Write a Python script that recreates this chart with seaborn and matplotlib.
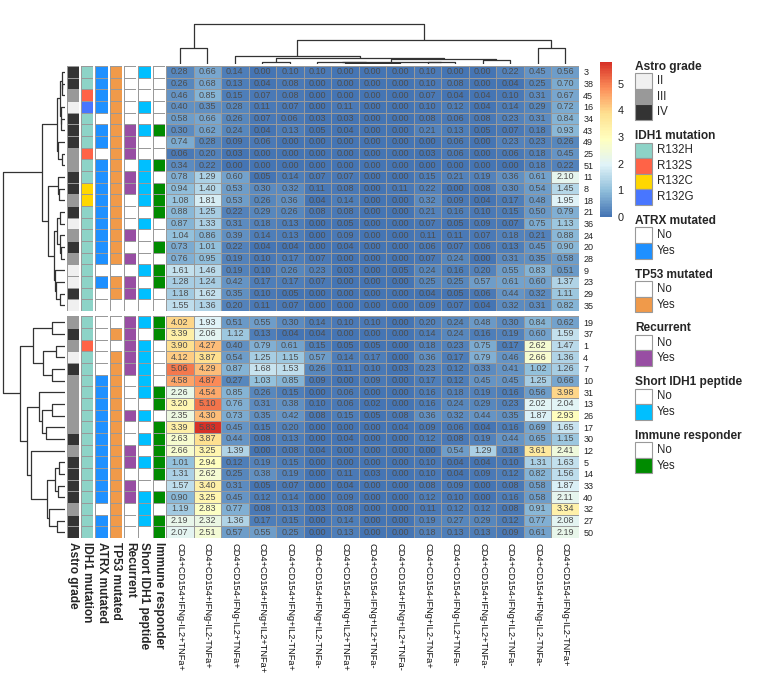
import numpy as np
import pandas as pd
import matplotlib
matplotlib.use('Agg')
import matplotlib.pyplot as plt
import seaborn as sns
from matplotlib.colors import ListedColormap, LinearSegmentedColormap
from matplotlib.patches import Rectangle

'''Data read from the reference chart'''

cell_types = ["CD4+CD154+IFNg-IL2+TNFa+", "CD4+CD154+IFNg-IL2-TNFa+", "CD4+CD154-IFNg-IL2+TNFa+",
              "CD4+CD154+IFNg+IL2+TNFa+", "CD4+CD154+IFNg+IL2-TNFa+", "CD4+CD154+IFNg+IL2-TNFa-",
              "CD4+CD154-IFNg+IL2+TNFa+", "CD4+CD154-IFNg+IL2+TNFa-", "CD4+CD154+IFNg+IL2+TNFa-",
              "CD4+CD154-IFNg+IL2-TNFa+", "CD4+CD154-IFNg-IL2+TNFa-", "CD4+CD154+IFNg-IL2+TNFa-",
              "CD4+CD154-IFNg+IL2-TNFa-", "CD4+CD154+IFNg-IL2-TNFa-", "CD4+CD154-IFNg-IL2-TNFa+"]

patients = ["3", "38", "45", "16", "34", "43", "49", "25", "51", "11", "8", "18", "21", "36", "24",
            "20", "28", "9", "23", "29", "35",
            "19", "37", "1", "4", "7", "10", "31", "13", "26", "17", "30", "12", "5", "14", "33",
            "40", "32", "27", "50"]

values = [
    [0.28, 0.66, 0.14, 0.00, 0.10, 0.10, 0.00, 0.00, 0.00, 0.10, 0.00, 0.00, 0.22, 0.45, 0.56],
    [0.26, 0.68, 0.13, 0.04, 0.08, 0.00, 0.00, 0.00, 0.00, 0.10, 0.08, 0.00, 0.04, 0.25, 0.70],
    [0.46, 0.85, 0.15, 0.07, 0.08, 0.00, 0.00, 0.00, 0.00, 0.07, 0.04, 0.04, 0.10, 0.31, 0.67],
    [0.40, 0.35, 0.28, 0.11, 0.07, 0.00, 0.11, 0.00, 0.00, 0.10, 0.12, 0.04, 0.14, 0.29, 0.72],
    [0.58, 0.66, 0.26, 0.07, 0.06, 0.03, 0.03, 0.00, 0.00, 0.08, 0.06, 0.08, 0.23, 0.31, 0.84],
    [0.30, 0.62, 0.24, 0.04, 0.13, 0.05, 0.04, 0.00, 0.00, 0.21, 0.13, 0.05, 0.07, 0.18, 0.93],
    [0.74, 0.28, 0.09, 0.06, 0.00, 0.00, 0.00, 0.00, 0.00, 0.00, 0.06, 0.00, 0.23, 0.23, 0.26],
    [0.06, 0.20, 0.03, 0.00, 0.00, 0.00, 0.00, 0.00, 0.00, 0.03, 0.06, 0.00, 0.06, 0.18, 0.45],
    [0.34, 0.22, 0.00, 0.00, 0.00, 0.00, 0.00, 0.00, 0.00, 0.00, 0.00, 0.00, 0.00, 0.18, 0.22],
    [0.78, 1.29, 0.60, 0.05, 0.14, 0.07, 0.07, 0.00, 0.00, 0.15, 0.21, 0.19, 0.36, 0.61, 2.10],
    [0.94, 1.40, 0.53, 0.30, 0.32, 0.11, 0.08, 0.00, 0.11, 0.22, 0.00, 0.08, 0.30, 0.54, 1.45],
    [1.08, 1.81, 0.53, 0.26, 0.36, 0.04, 0.14, 0.00, 0.00, 0.32, 0.09, 0.04, 0.17, 0.48, 1.95],
    [0.88, 1.25, 0.22, 0.29, 0.26, 0.08, 0.08, 0.00, 0.00, 0.21, 0.16, 0.10, 0.15, 0.50, 0.79],
    [0.87, 1.33, 0.31, 0.18, 0.13, 0.00, 0.05, 0.00, 0.00, 0.07, 0.05, 0.09, 0.07, 0.75, 1.13],
    [1.04, 0.86, 0.39, 0.14, 0.13, 0.00, 0.09, 0.00, 0.00, 0.11, 0.11, 0.07, 0.18, 0.21, 0.88],
    [0.73, 1.01, 0.22, 0.04, 0.04, 0.00, 0.04, 0.00, 0.00, 0.06, 0.07, 0.06, 0.13, 0.45, 0.90],
    [0.76, 0.95, 0.19, 0.10, 0.17, 0.07, 0.00, 0.00, 0.00, 0.07, 0.24, 0.00, 0.31, 0.35, 0.58],
    [1.61, 1.46, 0.19, 0.10, 0.26, 0.23, 0.03, 0.00, 0.05, 0.24, 0.16, 0.20, 0.55, 0.83, 0.51],
    [1.28, 1.24, 0.42, 0.17, 0.17, 0.07, 0.00, 0.00, 0.00, 0.25, 0.25, 0.57, 0.61, 0.60, 1.37],
    [1.18, 1.62, 0.35, 0.10, 0.05, 0.00, 0.00, 0.00, 0.00, 0.04, 0.05, 0.06, 0.44, 0.32, 1.11],
    [1.55, 1.36, 0.20, 0.11, 0.07, 0.00, 0.00, 0.00, 0.00, 0.09, 0.07, 0.04, 0.32, 0.31, 0.82],
    [4.02, 1.93, 0.51, 0.55, 0.30, 0.14, 0.10, 0.10, 0.00, 0.20, 0.24, 0.48, 0.30, 0.84, 0.62],
    [3.39, 2.06, 1.12, 0.13, 0.04, 0.04, 0.00, 0.00, 0.00, 0.14, 0.24, 0.16, 0.19, 0.60, 1.59],
    [3.90, 4.27, 0.40, 0.79, 0.61, 0.15, 0.05, 0.05, 0.00, 0.18, 0.23, 0.75, 0.17, 2.62, 1.47],
    [4.12, 3.87, 0.54, 1.25, 1.15, 0.57, 0.14, 0.17, 0.00, 0.36, 0.17, 0.79, 0.46, 2.66, 1.36],
    [5.06, 4.29, 0.87, 1.68, 1.53, 0.26, 0.11, 0.10, 0.03, 0.23, 0.12, 0.33, 0.41, 1.02, 1.26],
    [4.58, 4.87, 0.27, 1.03, 0.85, 0.09, 0.00, 0.09, 0.00, 0.17, 0.12, 0.45, 0.45, 1.25, 0.66],
    [2.26, 4.54, 0.85, 0.26, 0.15, 0.00, 0.06, 0.00, 0.00, 0.16, 0.18, 0.19, 0.16, 0.56, 3.98],
    [3.20, 5.10, 0.76, 0.31, 0.38, 0.10, 0.06, 0.02, 0.00, 0.16, 0.24, 0.29, 0.23, 2.02, 2.04],
    [2.35, 4.30, 0.73, 0.35, 0.42, 0.08, 0.15, 0.05, 0.08, 0.36, 0.32, 0.44, 0.35, 1.87, 2.93],
    [3.39, 5.83, 0.45, 0.15, 0.20, 0.00, 0.00, 0.00, 0.04, 0.09, 0.06, 0.04, 0.16, 0.69, 1.65],
    [2.63, 3.87, 0.44, 0.08, 0.13, 0.00, 0.04, 0.00, 0.00, 0.12, 0.08, 0.19, 0.44, 0.65, 1.15],
    [2.66, 3.25, 1.39, 0.00, 0.08, 0.04, 0.00, 0.00, 0.00, 0.00, 0.54, 1.29, 0.18, 3.61, 2.41],
    [1.01, 2.94, 0.12, 0.19, 0.15, 0.00, 0.00, 0.00, 0.00, 0.10, 0.04, 0.04, 0.10, 1.31, 1.63],
    [1.31, 2.62, 0.25, 0.38, 0.19, 0.00, 0.11, 0.03, 0.00, 0.10, 0.04, 0.09, 0.12, 0.82, 1.56],
    [1.57, 3.40, 0.31, 0.05, 0.07, 0.00, 0.04, 0.00, 0.00, 0.08, 0.09, 0.00, 0.08, 0.58, 1.87],
    [0.90, 3.25, 0.45, 0.12, 0.14, 0.00, 0.09, 0.00, 0.00, 0.12, 0.10, 0.00, 0.16, 0.58, 2.11],
    [1.19, 2.83, 0.77, 0.08, 0.13, 0.03, 0.08, 0.00, 0.00, 0.11, 0.12, 0.12, 0.08, 0.91, 3.34],
    [2.19, 2.32, 1.36, 0.17, 0.15, 0.00, 0.14, 0.00, 0.00, 0.19, 0.27, 0.29, 0.12, 0.77, 2.08],
    [2.07, 2.51, 0.57, 0.55, 0.25, 0.00, 0.13, 0.00, 0.00, 0.18, 0.13, 0.13, 0.09, 0.61, 2.19],
]

astro_grade = ["IV", "IV", "III", "II", "IV", "IV", "IV", "III", "III", "IV", "IV", "III", "IV", "II",
               "III", "IV", "III", "II", "II", "IV", "II",
               "III", "IV", "III", "II", "IV", "III", "III", "III", "III", "III", "IV", "III", "IV",
               "IV", "IV", "IV", "III", "IV", "IV"]
idh1_mutation = ["R132H", "R132H", "R132S", "R132G", "R132H", "R132H", "R132H", "R132S", "R132H",
                 "R132H", "R132C", "R132C"] + ["R132H"] * 9 + ["R132H", "R132H", "R132S"] + ["R132H"] * 16
atrx_mutated = ["Yes", "Yes", "Yes", "Yes", "No", "Yes", "Yes", "No", "Yes", "Yes", "Yes", "Yes", "Yes",
                "Yes", "Yes", "Yes", "Yes", "No", "Yes", "No", "No",
                "No", "No", "No", "No", "No", "Yes", "Yes", "Yes", "Yes", "Yes", "Yes", "Yes", "Yes",
                "Yes", "Yes", "Yes", "No", "Yes", "Yes"]
tp53_mutated = ["Yes"] * 17 + ["No", "Yes", "Yes", "No"] + ["No", "Yes", "No"] + ["Yes"] * 16
recurrent = ["No", "No", "No", "No", "No", "Yes", "Yes", "Yes", "No", "Yes", "Yes", "No", "No", "No",
             "Yes", "No", "Yes", "No", "Yes", "Yes", "No",
             "Yes", "Yes", "Yes", "Yes", "Yes", "No", "No", "No", "Yes", "No", "No", "Yes", "Yes",
             "No", "Yes", "Yes", "No", "No", "No"]
short_peptide = ["Yes", "No", "No", "Yes", "No", "Yes", "No", "No", "Yes", "Yes", "Yes", "Yes", "No",
                 "Yes", "No", "No", "No", "Yes", "No", "Yes", "No",
                 "Yes", "No", "Yes", "Yes", "Yes", "Yes", "Yes", "No", "Yes", "No", "Yes", "No", "Yes",
                 "No", "No", "Yes", "Yes", "Yes", "No"]
immune_responder = ["No", "No", "No", "No", "No", "Yes", "No", "No", "Yes", "No", "Yes", "Yes", "Yes",
                    "No", "No", "Yes", "No", "Yes", "Yes", "No", "No",
                    "Yes", "Yes", "No", "No", "No", "No", "Yes", "Yes", "No", "Yes", "Yes", "Yes", "Yes",
                    "Yes", "No", "Yes", "No", "Yes", "Yes"]

annotations = [
    ("Astro grade", astro_grade, ["II", "III", "IV"], ["#F0F0F0", "#999999", "#333333"]),
    ("IDH1 mutation", idh1_mutation, ["R132H", "R132S", "R132C", "R132G"],
     ["#8DD3C7", "#FF6347", "#FFD700", "#4876FF"]),
    ("ATRX mutated", atrx_mutated, ["No", "Yes"], ["#FFFFFF", "#1E90FF"]),
    ("TP53 mutated", tp53_mutated, ["No", "Yes"], ["#FFFFFF", "#F09A4A"]),
    ("Recurrent", recurrent, ["No", "Yes"], ["#FFFFFF", "#984EA3"]),
    ("Short IDH1 peptide", short_peptide, ["No", "Yes"], ["#FFFFFF", "#00BFFF"]),
    ("Immune responder", immune_responder, ["No", "Yes"], ["#FFFFFF", "#008B00"]),
]


'''Helper Functions'''

def complete_linkage(X):
    '''Agglomerative clustering, euclidean distance, complete linkage'''
    X = np.asarray(X, float)
    n = len(X)
    D = np.sqrt(((X[:, None, :] - X[None, :, :]) ** 2).sum(-1))
    np.fill_diagonal(D, np.inf)
    active = list(range(n))
    ids = list(range(n))
    children, heights = {}, {}
    next_id = n
    while len(active) > 1:
        sub = D[np.ix_(active, active)]
        i, j = np.unravel_index(np.argmin(sub), sub.shape)
        a, b = active[i], active[j]
        children[next_id] = (ids[a], ids[b])
        heights[next_id] = D[a, b]
        row = np.maximum(D[a], D[b])
        D[a, :] = row
        D[:, a] = row
        D[a, a] = np.inf
        ids[a] = next_id
        active.remove(b)
        next_id += 1
    return next_id - 1, children, heights


def leaf_order(node, n, children):
    '''Leaves under a node, children flipped to follow the original order'''
    if node < n:
        return [node]
    left = leaf_order(children[node][0], n, children)
    right = leaf_order(children[node][1], n, children)
    if min(right) < min(left):
        left, right = right, left
    return left + right


def draw_dendrogram(ax, root, n, children, heights, leaf_pos, vertical):
    '''Draw the tree with leaves at leaf_pos'''
    pos, hgt = dict(leaf_pos), {i: 0.0 for i in range(n)}

    def walk(node):
        if node < n:
            return
        l, r = children[node]
        walk(l)
        walk(r)
        pos[node] = (pos[l] + pos[r]) / 2
        hgt[node] = heights[node]
        h = heights[node]
        xs = [pos[l], pos[l], pos[r], pos[r]]
        ys = [hgt[l], h, h, hgt[r]]
        if vertical:
            ax.plot(xs, ys, color='#333333', lw=0.9, solid_capstyle='butt')
        else:
            ax.plot(ys, xs, color='#333333', lw=0.9, solid_capstyle='butt')

    walk(root)
    return heights[root]


W, H = 771, 685

def px_axes(fig, x0, y0, x1, y1):
    return fig.add_axes([x0 / W, 1 - y1 / H, (x1 - x0) / W, (y1 - y0) / H])


'''Main Function'''

def main():
    sns.set_style('white')
    plt.rcParams['font.family'] = ['Liberation Sans', 'DejaVu Sans']

    df = pd.DataFrame(values, index=patients, columns=cell_types)
    n_rows, n_cols = df.shape

    # clustering of rows and columns
    r_root, r_children, r_heights = complete_linkage(df.values)
    row_order = leaf_order(r_root, n_rows, r_children)
    first = leaf_order(r_children[r_root][0], n_rows, r_children)
    n_top = len(first) if 0 in first else n_rows - len(first)
    c_root, c_children, c_heights = complete_linkage(df.values.T)
    col_order = leaf_order(c_root, n_cols, c_children)

    df = df.iloc[row_order, col_order]
    groups = [df.iloc[:n_top], df.iloc[n_top:]]

    ramp = ["#4575B4", "#91BFDB", "#E0F3F8", "#FFFFBF", "#FEE090", "#FC8D59", "#D73027"]
    cmap = LinearSegmentedColormap.from_list('rdylbu', ramp, N=100)
    vmax = df.values.max()

    fig = plt.figure(figsize=(W / 100, H / 100), dpi=100)

    row_h = 11.67
    gap = 5.3
    top0 = 66.0
    x_left, x_right = 166.0, 579.0
    y_ranges = [(top0, top0 + n_top * row_h),
                (top0 + n_top * row_h + gap, top0 + n_rows * row_h + gap)]

    cax = px_axes(fig, 600, 61.7, 612, 216.7)
    heat_axes = []

    for g, (y0, y1) in enumerate(y_ranges):
        ax = px_axes(fig, x_left, y0, x_right, y1)
        heat_axes.append(ax)
        sns.heatmap(groups[g], ax=ax, cmap=cmap, vmin=0, vmax=vmax, annot=True, fmt='.2f',
                    annot_kws={'size': 6.5, 'color': '#4D4D4D'}, linewidths=0.6, linecolor='#999999',
                    cbar=(g == 0), cbar_ax=cax if g == 0 else None,
                    xticklabels=(g == 1), yticklabels=True)
        ax.yaxis.tick_right()
        ax.tick_params(axis='y', length=0, pad=3, labelsize=6.5, labelcolor='#222222', rotation=0)
        ax.set_ylabel('')
        if g == 1:
            ax.set_xticklabels(groups[g].columns, rotation=270, fontsize=6.7, color='#111111')
            ax.tick_params(axis='x', length=0, pad=3.3)

        # annotation columns
        for j, (name, labels, levels, colors) in enumerate(annotations):
            codes = np.array([levels.index(labels[p]) for p in row_order])
            codes = codes[:n_top] if g == 0 else codes[n_top:]
            ax_a = px_axes(fig, 66.7 + j * 14.3, y0, 66.7 + j * 14.3 + 12.4, y1)
            sns.heatmap(codes.reshape(-1, 1), ax=ax_a, cmap=ListedColormap(colors),
                        vmin=-0.5, vmax=len(colors) - 0.5, cbar=False, linewidths=0.6,
                        linecolor='#999999', xticklabels=False, yticklabels=False)
            if g == 1:
                ax_a.set_xticks([0.5])
                ax_a.set_xticklabels([name], rotation=270, fontsize=8.6, fontweight='bold')
                ax_a.tick_params(axis='x', length=0, pad=2.5)

    # colorbar
    cb = heat_axes[0].collections[0].colorbar
    cb.outline.set_visible(False)
    cb.set_ticks([0, 1, 2, 3, 4, 5])
    cax.tick_params(length=0, labelsize=7.8, pad=4, labelcolor='#222222')

    # row dendrogram
    ax_rd = px_axes(fig, 0, top0, 65, y_ranges[1][1])
    leaf_pos = {}
    for k, p in enumerate(row_order):
        leaf_pos[p] = top0 + (k + 0.5) * row_h + (gap if k >= n_top else 0)
    hmax = draw_dendrogram(ax_rd, r_root, n_rows, r_children, r_heights, leaf_pos, vertical=False)
    ax_rd.set_xlim(hmax * 1.05, 0)
    ax_rd.set_ylim(y_ranges[1][1], top0)
    ax_rd.axis('off')

    # column dendrogram
    ax_cd = px_axes(fig, x_left, 22, x_right, 64)
    cw = (x_right - x_left) / n_cols
    cpos = {p: x_left + (k + 0.5) * cw for k, p in enumerate(col_order)}
    hmax = draw_dendrogram(ax_cd, c_root, n_cols, c_children, c_heights, cpos, vertical=True)
    ax_cd.set_ylim(0, hmax * 1.05)
    ax_cd.set_xlim(x_left, x_right)
    ax_cd.axis('off')

    # legends
    ax_l = px_axes(fig, 630, 50, 771, 490)
    ax_l.set_xlim(630, 771)
    ax_l.set_ylim(490, 50)
    ax_l.axis('off')
    y = 66.7
    box_h = 15.6
    for name, labels, levels, colors in annotations:
        ax_l.text(635, y, name, fontsize=8.6, fontweight='bold', va='center', ha='left')
        b = y + 6.5
        for lev, col in zip(levels, colors):
            ax_l.add_patch(Rectangle((635, b), 17, box_h, facecolor=col, edgecolor='#999999', lw=0.8))
            ax_l.text(657, b + box_h / 2, lev, fontsize=8.3, va='center', ha='left')
            b += box_h
        y = b + 16

    fig.savefig('out.png', dpi=100)


if __name__ == "__main__":
    main()
